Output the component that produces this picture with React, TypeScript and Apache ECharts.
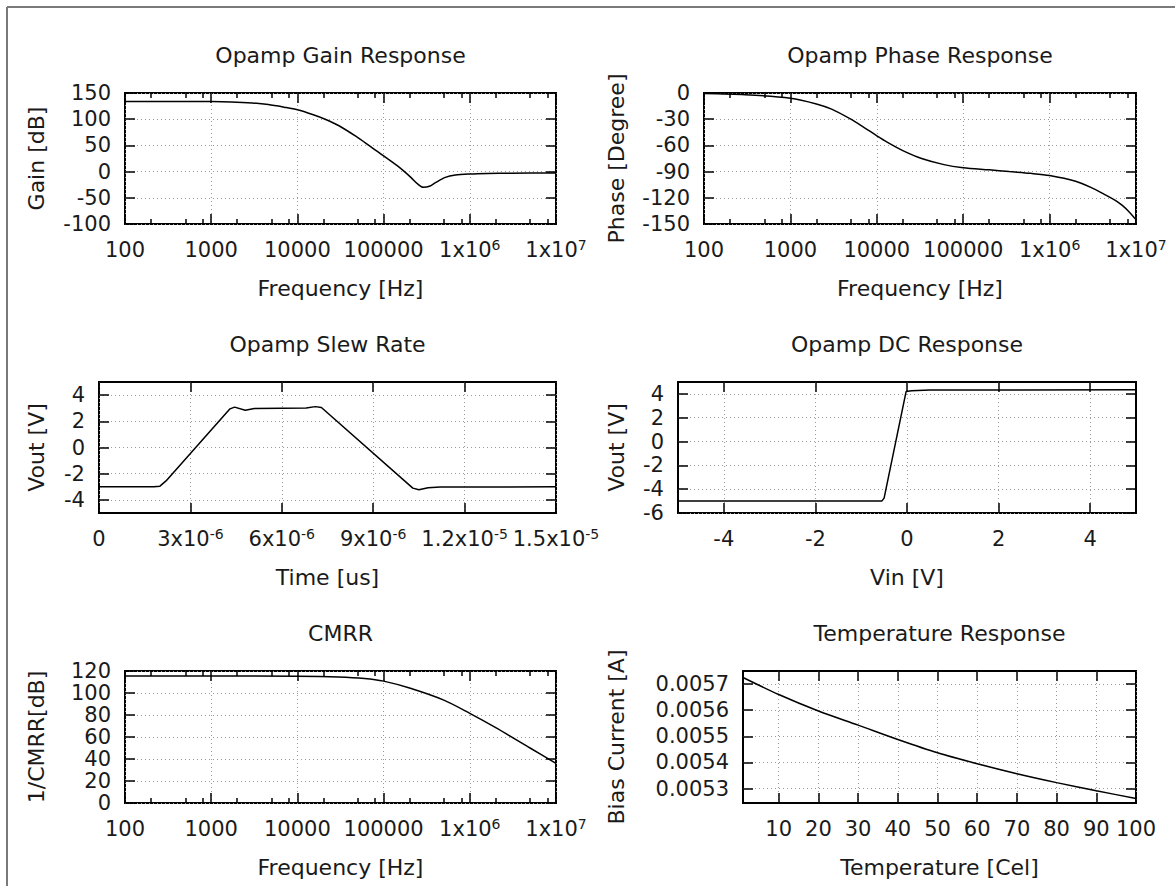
import React, { useEffect, useRef } from 'react';
import * as echarts from 'echarts';

// ---------------- data ----------------
const FREQ_MAJOR = [100, 1000, 10000, 100000, 1000000, 10000000];
const FREQ_MINOR = [200, 500, 800, 2000, 5000, 8000, 20000, 50000, 80000, 200000, 500000, 800000, 2000000, 5000000, 8000000];

const GAIN_FREQ = [100, 300, 1000, 1700, 3000, 4600, 7000, 10000, 15000, 21000, 30000, 48000, 70000, 87000, 100000, 130000, 150000, 180000, 210000, 250000, 290000, 340000, 400000, 520000, 680000, 1000000, 1600000, 3000000, 10000000];
const GAIN_DB = [134, 134, 133.7, 133, 131, 128, 123, 118, 109, 100, 88, 67, 48, 37, 30, 16.5, 9, -2, -12, -24, -30, -28, -21, -11, -6.5, -4.5, -3.5, -3, -2.5];
const GAIN_TICKS = [-100, -50, 0, 50, 100, 150];

const PHASE_FREQ = [100, 300, 1000, 2000, 3000, 5000, 7000, 10000, 13000, 20000, 33000, 60000, 100000, 200000, 340000, 600000, 1000000, 2000000, 3000000, 4300000, 6000000, 7000000, 8500000, 10000000];
const PHASE_DEG = [-0.7, -2, -6, -12.5, -18.5, -30, -39, -49, -56, -66, -75, -82, -85.5, -88, -90, -92, -94.5, -101, -108, -116, -124, -129, -137, -145];
const PHASE_TICKS = [-150, -120, -90, -60, -30, 0];

const SLEW_TIME = [0, 1.8e-6, 2.0e-6, 2.2e-6, 4.3e-6, 4.45e-6, 4.8e-6, 5.1e-6, 6.0e-6, 6.8e-6, 7.1e-6, 7.3e-6, 10.3e-6, 10.5e-6, 10.8e-6, 11.2e-6, 1.5e-5];
const SLEW_VOUT = [-3.0, -3.0, -2.95, -2.55, 2.95, 3.08, 2.85, 2.98, 3.0, 3.02, 3.12, 3.05, -3.1, -3.22, -3.08, -3.02, -3.0];
const SLEW_TIME_TICKS = [0, 3e-6, 6e-6, 9e-6, 1.2e-5, 1.5e-5];
const SLEW_V_TICKS = [-4, -2, 0, 2, 4];

const DC_VIN = [-5, -0.55, -0.5, -0.02, 0.1, 0.5, 5];
const DC_VOUT = [-5.0, -5.0, -4.75, 4.2, 4.26, 4.32, 4.35];
const DC_VIN_TICKS = [-4, -2, 0, 2, 4];
const DC_VOUT_TICKS = [-6, -4, -2, 0, 2, 4];

const CMRR_FREQ = [100, 1000, 10000, 30000, 60000, 100000, 200000, 500000, 1000000, 2000000, 5000000, 10000000];
const CMRR_DB = [115.5, 115.5, 115.3, 114.6, 113.2, 110.8, 104.5, 93.5, 81.5, 68.5, 50, 36];
const CMRR_TICKS = [0, 20, 40, 60, 80, 100, 120];

const TEMP_CEL = [1, 10, 20, 30, 40, 50, 60, 70, 80, 90, 100];
const TEMP_BIAS = [0.005725, 0.00566, 0.005597, 0.005543, 0.005488, 0.005437, 0.005395, 0.005357, 0.005323, 0.005292, 0.005262];
const TEMP_TICKS = [10, 20, 30, 40, 50, 60, 70, 80, 90, 100];
const BIAS_TICKS = [0.0053, 0.0054, 0.0055, 0.0056, 0.0057];

// ---------------- formatting ----------------
const fmtFreq = (v: number) => {
  const e = Math.round(Math.log10(v));
  return e >= 6 ? `1x10{sup|${e}}` : String(Math.round(Math.pow(10, e)));
};
const fmtSci = (v: number) => {
  if (Math.abs(v) < 1e-12) return '0';
  const e = Math.floor(Math.log10(Math.abs(v)) + 1e-9);
  const m = +(v / Math.pow(10, e)).toFixed(3);
  return `${m}x10{sup|${e}}`;
};
const fmtNum = (v: number) => String(+v.toFixed(6));
const fmtBias = (v: number) => v.toFixed(4);

// ---------------- layout ----------------
type Panel = {
  title: string; xName: string; yName: string;
  left: number; top: number; right: number; bottom: number; yNameX: number;
  xLog: boolean; xMin: number; xMax: number; yMin: number; yMax: number;
  xTicks: number[]; xMinor?: number[]; yTicks: number[];
  xs: number[]; ys: number[];
  xFmt: (v: number) => string; yFmt: (v: number) => string;
  smooth: number | boolean;
};

const PANELS: Panel[] = [
  { title: 'Opamp Gain Response', xName: 'Frequency [Hz]', yName: 'Gain [dB]', left: 125, top: 93, right: 556, bottom: 224, yNameX: 36,
    xLog: true, xMin: 100, xMax: 1e7, yMin: -100, yMax: 150, xTicks: FREQ_MAJOR, xMinor: FREQ_MINOR, yTicks: GAIN_TICKS,
    xs: GAIN_FREQ, ys: GAIN_DB, xFmt: fmtFreq, yFmt: fmtNum, smooth: 0.3 },
  { title: 'Opamp Phase Response', xName: 'Frequency [Hz]', yName: 'Phase [Degree]', left: 704, top: 93, right: 1136, bottom: 224, yNameX: 616,
    xLog: true, xMin: 100, xMax: 1e7, yMin: -150, yMax: 0, xTicks: FREQ_MAJOR, xMinor: FREQ_MINOR, yTicks: PHASE_TICKS,
    xs: PHASE_FREQ, ys: PHASE_DEG, xFmt: fmtFreq, yFmt: fmtNum, smooth: 0.3 },
  { title: 'Opamp Slew Rate', xName: 'Time [us]', yName: 'Vout [V]', left: 99, top: 382, right: 556, bottom: 513, yNameX: 36,
    xLog: false, xMin: 0, xMax: 1.5e-5, yMin: -5, yMax: 5, xTicks: SLEW_TIME_TICKS, yTicks: SLEW_V_TICKS,
    xs: SLEW_TIME, ys: SLEW_VOUT, xFmt: fmtSci, yFmt: fmtNum, smooth: false },
  { title: 'Opamp DC Response', xName: 'Vin [V]', yName: 'Vout [V]', left: 678, top: 382, right: 1136, bottom: 513, yNameX: 616,
    xLog: false, xMin: -5, xMax: 5, yMin: -6, yMax: 5, xTicks: DC_VIN_TICKS, yTicks: DC_VOUT_TICKS,
    xs: DC_VIN, ys: DC_VOUT, xFmt: fmtNum, yFmt: fmtNum, smooth: false },
  { title: 'CMRR', xName: 'Frequency [Hz]', yName: '1/CMRR[dB]', left: 125, top: 671, right: 556, bottom: 803, yNameX: 36,
    xLog: true, xMin: 100, xMax: 1e7, yMin: 0, yMax: 120, xTicks: FREQ_MAJOR, xMinor: FREQ_MINOR, yTicks: CMRR_TICKS,
    xs: CMRR_FREQ, ys: CMRR_DB, xFmt: fmtFreq, yFmt: fmtNum, smooth: 0.3 },
  { title: 'Temperature Response', xName: 'Temperature [Cel]', yName: 'Bias Current [A]', left: 743, top: 671, right: 1136, bottom: 803, yNameX: 616,
    xLog: false, xMin: 1, xMax: 100, yMin: 0.005245, yMax: 0.00575, xTicks: TEMP_TICKS, yTicks: BIAS_TICKS,
    xs: TEMP_CEL, ys: TEMP_BIAS, xFmt: fmtNum, yFmt: fmtBias, smooth: 0.3 },
];

const FONT = 'DejaVu Sans';
const TXT = '#1a1a1a';
const FS_TICK = 21;
const FS_TEXT = 22;

function buildOption() {
  const grid: any[] = [];
  const xAxis: any[] = [];
  const yAxis: any[] = [];
  const series: any[] = [];
  const title: any[] = [];

  const xLabelBase = {
    fontFamily: FONT, fontSize: FS_TICK, color: TXT, lineHeight: 24,
    rich: { sup: { fontFamily: FONT, fontSize: 14, lineHeight: 14, verticalAlign: 'top', color: TXT } },
  };
  const yLabelBase = { fontFamily: FONT, fontSize: FS_TICK, color: TXT, lineHeight: 20 };
  const nameStyle = { fontFamily: FONT, fontSize: FS_TEXT, color: TXT };
  const gridLine = { show: true, lineStyle: { color: '#9a9a9a', width: 1, type: [1, 3] } };
  const tick = (vals: number[], len: number) => ({
    show: true, inside: true, length: len, customValues: vals,
    lineStyle: { color: '#000', width: 1.5 },
  });

  PANELS.forEach((p, gi) => {
    const w = p.right - p.left;
    const h = p.bottom - p.top;
    grid.push({
      left: p.left, top: p.top, width: w, height: h, show: true,
      borderColor: '#000', borderWidth: 2, backgroundColor: 'transparent',
      containLabel: false, outerBoundsMode: 'none',
    });
    title.push({
      text: p.title, left: p.left + w / 2, top: p.top - 38, padding: 0,
      textAlign: 'center', textVerticalAlign: 'middle',
      textStyle: { fontFamily: FONT, fontSize: FS_TEXT, fontWeight: 'normal', color: TXT },
    });

    const xBase: any = {
      gridIndex: gi, type: p.xLog ? 'log' : 'value', min: p.xMin, max: p.xMax,
      axisLine: { show: false, onZero: false }, splitLine: { show: false }, axisLabel: { show: false },
    };
    if (p.xLog) xBase.logBase = 10;
    const mainX = xAxis.length;
    xAxis.push({
      ...xBase, position: 'bottom',
      name: p.xName, nameLocation: 'middle', nameGap: 53, nameTextStyle: nameStyle,
      axisTick: tick(p.xTicks, 10),
      axisLabel: { ...xLabelBase, show: true, customValues: p.xTicks, formatter: p.xFmt, margin: 14, hideOverlap: false, showMinLabel: true, showMaxLabel: true },
      splitLine: gridLine,
    });
    xAxis.push({ ...xBase, position: 'top', axisTick: tick(p.xTicks, 10) });
    if (p.xMinor) {
      xAxis.push({ ...xBase, position: 'bottom', axisTick: tick(p.xMinor, 5) });
      xAxis.push({ ...xBase, position: 'top', axisTick: tick(p.xMinor, 5) });
    }

    const yBase: any = {
      gridIndex: gi, type: 'value', min: p.yMin, max: p.yMax,
      axisLine: { show: false, onZero: false }, splitLine: { show: false }, axisLabel: { show: false },
    };
    const mainY = yAxis.length;
    yAxis.push({
      ...yBase, position: 'left',
      name: p.yName, nameLocation: 'middle', nameGap: p.left - (p.yNameX + 11), nameTextStyle: nameStyle,
      axisTick: tick(p.yTicks, 10),
      axisLabel: { ...yLabelBase, show: true, customValues: p.yTicks, formatter: p.yFmt, margin: 14, hideOverlap: false, showMinLabel: true, showMaxLabel: true },
      splitLine: gridLine,
    });
    yAxis.push({ ...yBase, position: 'right', axisTick: tick(p.yTicks, 10) });

    series.push({
      type: 'line', xAxisIndex: mainX, yAxisIndex: mainY,
      data: p.xs.map((x, i) => [x, p.ys[i]]),
      showSymbol: false, symbol: 'none', smooth: p.smooth, silent: true, clip: true,
      lineStyle: { color: '#000', width: 1.5 },
    });
  });

  return {
    animation: false,
    backgroundColor: '#fff',
    title,
    grid,
    xAxis,
    yAxis,
    series,
    graphic: [
      { type: 'line', shape: { x1: 7, y1: 7, x2: 1175, y2: 7 }, style: { stroke: '#7a7a7a', lineWidth: 2 } },
      { type: 'line', shape: { x1: 7, y1: 7, x2: 7, y2: 886 }, style: { stroke: '#7a7a7a', lineWidth: 2 } },
    ],
  };
}

export default function App() {
  const ref = useRef<HTMLDivElement>(null);
  useEffect(() => {
    if (!ref.current) return;
    const chart = echarts.init(ref.current, null, { renderer: 'svg' });
    chart.setOption(buildOption() as any);
    return () => chart.dispose();
  }, []);
  return (
    <div
      ref={ref}
      style={{ position: 'absolute', left: 0, top: 0, width: 1175, height: 886, background: '#fff' }}
    />
  );
}
